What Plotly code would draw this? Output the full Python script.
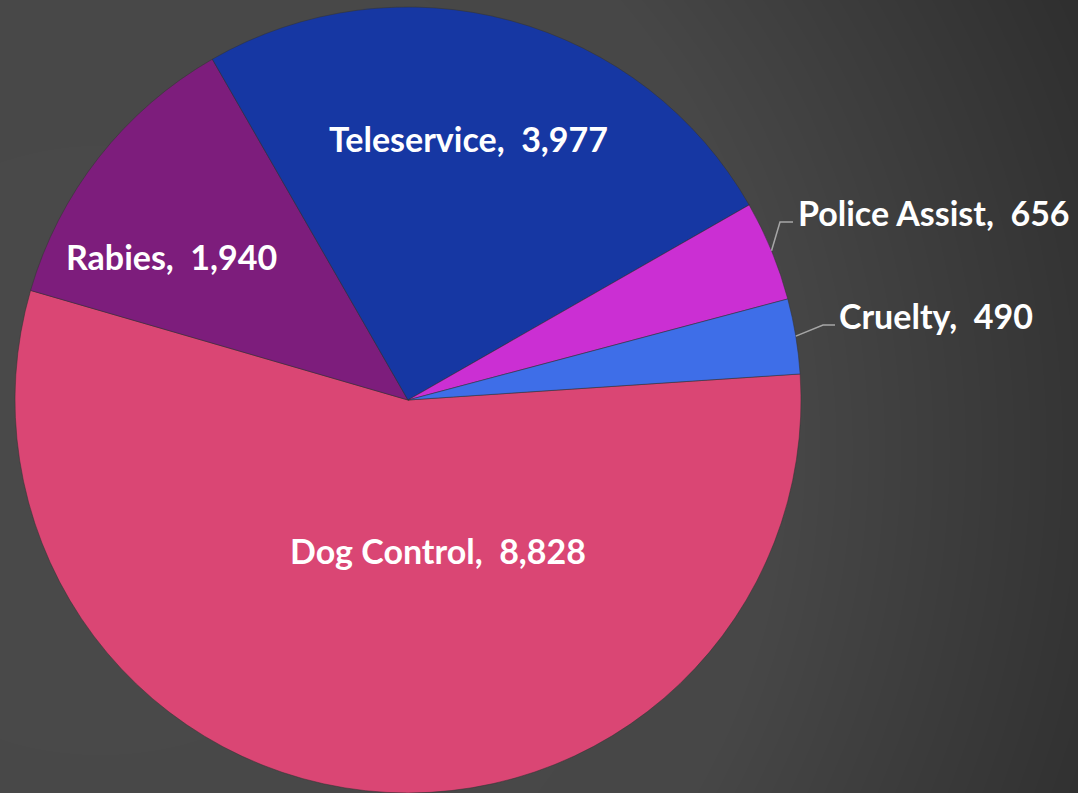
import numpy as np
import plotly.graph_objects as go

# ---- data ----
labels = ["Dog Control", "Rabies", "Teleservice", "Police Assist", "Cruelty"]
values = [8828, 1940, 3977, 656, 490]
colors = ["#da4674", "#7d1d7c", "#1637a3", "#cb2fd3", "#3e6ee8"]

# ---- layout constants ----
W, H = 1078, 793
cx, cy, R = 408, 400, 393
rotation = 86.2

# label placement (pixel coords), style only
inside_pos = {"Dog Control": (438, 550), "Rabies": (171, 256), "Teleservice": (468, 138)}
outside_pos = {"Police Assist": {"elbow": (780, 222), "end": (793, 222), "text": (796, 212)},
               "Cruelty": {"elbow": (823, 325), "end": (835, 325), "text": (837, 315)}}

fig = go.Figure()

# background radial gradient
gx = np.linspace(-10, W + 10, 111)
gy = np.linspace(-10, H + 10, 83)
XX, YY = np.meshgrid(gx, gy)
d = np.hypot(XX - 100, YY - 450)
z = np.where(d < 680, 71 + (680 - d) * 0.004, 71 - 0.062 * (d - 680))
fig.add_trace(go.Heatmap(x=gx, y=gy, z=z, zmin=0, zmax=255, zsmooth="best",
                         colorscale=[[0, "rgb(0,0,0)"], [1, "rgb(255,255,255)"]],
                         showscale=False, hoverinfo="skip"))

fig.add_trace(go.Pie(
    labels=labels, values=values, sort=False, direction="clockwise", rotation=rotation,
    marker=dict(colors=colors, line=dict(color="rgba(50,50,50,0.5)", width=1)),
    textinfo="none", hoverinfo="label+value", showlegend=False,
    domain=dict(x=[(cx - R) / W, (cx + R) / W], y=[(H - cy - R) / H, (H - cy + R) / H]),
))

total = sum(values)
cum = 0.0
annotations = []
shapes = []
font = dict(family="Lato, 'Open Sans', sans-serif", size=34, color="white")
for lab, val in zip(labels, values):
    mid = rotation + (cum + val / 2) / total * 360
    cum += val
    text = f"<b>{lab},\u00a0 {val:,}</b>"
    if lab in inside_pos:
        x, y = inside_pos[lab]
        annotations.append(dict(x=x, y=y, xref="x", yref="y", text=text, showarrow=False,
                                xanchor="center", yanchor="middle", font=font))
    else:
        a = np.radians(mid)
        sx, sy = cx + R * np.sin(a), cy - R * np.cos(a)
        p = outside_pos[lab]
        ex, ey = p["elbow"]
        fx, fy = p["end"]
        shapes.append(dict(type="path", xref="x", yref="y",
                           path=f"M {sx:.1f} {sy:.1f} L {ex} {ey} L {fx} {fy}",
                           line=dict(color="#a6a6a6", width=1.5)))
        tx, ty = p["text"]
        annotations.append(dict(x=tx, y=ty, xref="x", yref="y", text=text, showarrow=False,
                                xanchor="left", yanchor="middle", font=font))

fig.update_layout(
    width=W, height=H, margin=dict(l=0, r=0, t=0, b=0),
    paper_bgcolor="#404040", plot_bgcolor="#404040",
    xaxis=dict(range=[0, W], visible=False, fixedrange=True),
    yaxis=dict(range=[H, 0], visible=False, fixedrange=True),
    annotations=annotations, shapes=shapes,
)

fig.write_html("out.html", config={"displayModeBar": False},
               post_script="document.body.style.margin='0';document.body.style.overflow='hidden';")
